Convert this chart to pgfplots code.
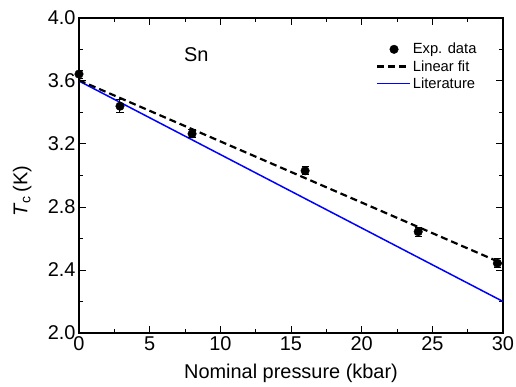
\documentclass[border=0pt]{standalone}
\usepackage{fontspec}
\setmainfont{Liberation Sans}
\usepackage{pgfplots}
\pgfplotsset{compat=1.18}
\begin{document}
\begin{tikzpicture}
\useasboundingbox (-79bp,-54bp) rectangle (437bp,333bp);
\begin{axis}[
  at={(0,0)}, anchor=south west,
  scale only axis,
  width=424bp, height=315bp,
  xmin=0, xmax=30, ymin=2.0, ymax=4.0,
  xtick={0,5,...,30},
  ytick={2.0,2.4,...,4.01},
  minor x tick num=1,
  minor y tick num=1,
  tick align=inside,
  major tick length=7bp,
  minor tick length=4bp,
  axis line style={line width=1.5pt},
  every tick/.style={line width=1pt, black},
  xtick pos=both, ytick pos=both,
  /pgf/number format/assume math mode=true,
  yticklabel style={/pgf/number format/.cd, fixed, fixed zerofill, precision=1},
  ticklabel style={font=\fontsize{20}{22}\selectfont},
  label style={font=\fontsize{20}{22}\selectfont},
  xlabel={Nominal pressure (kbar)},
  ylabel={\textit{T}\textsubscript{c}\,(K)},
  xlabel style={at={(axis description cs:0.5,-0.145)}, anchor=base},
  ylabel style={at={(axis description cs:-0.134,0.45)}, anchor=center},
  legend style={fill=none, at={(0.945,0.93)}, anchor=north east,
    font=\fontsize{14.8}{17}\selectfont, row sep=1pt, inner sep=1pt},
  every axis legend/.append style={draw=none},
  legend cell align=left,
  clip=true,
]
\addplot[blue, line width=1.5pt, forget plot] coordinates {(0,3.6) (30,2.2)};
\addplot[only marks, mark=*, mark size=4.3pt, black, forget plot,
  error bars/.cd, y dir=both, y explicit, error bar style={line width=1pt},
  error mark options={rotate=90, mark size=3.6pt, line width=1pt}]
  coordinates {
  (0,3.644) +- (0,0.025)
  (2.9,3.44) +- (0,0.04)
  (8,3.265) +- (0,0.025)
  (16,3.03) +- (0,0.025)
  (24,2.643) +- (0,0.03)
  (29.6,2.443) +- (0,0.03)
  };
\addplot[black, line width=2.2pt, dash pattern=on 7pt off 4pt, forget plot] coordinates {(0,3.605) (30,2.44)};
\addlegendimage{legend image code/.code={\fill[black] (17bp,0bp) circle (4.3pt);}}
\addlegendentry{Exp. data}
\addlegendimage{legend image code/.code={\draw[black, line width=2.4pt, dash pattern=on 7bp off 4bp] (0bp,0bp) -- (29bp,0bp);}}
\addlegendentry{Linear fit}
\addlegendimage{legend image code/.code={\draw[blue, line width=1.6pt] (0bp,0bp) -- (33bp,0bp);}}
\addlegendentry{Literature}
\node[font=\fontsize{20}{22}\selectfont] at (axis cs:8.3,3.77) {Sn};
\end{axis}
\end{tikzpicture}
\end{document}
